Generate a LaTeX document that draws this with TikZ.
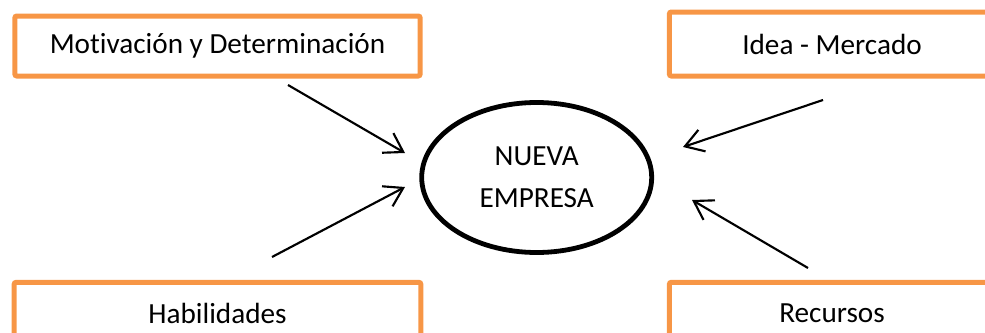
\documentclass[tikz,border=0pt]{standalone}
\usepackage{fontspec}
\setmainfont{Carlito}[Ligatures=NoCommon]
\usetikzlibrary{arrows.meta,shapes.geometric}
\definecolor{naranja}{HTML}{F79646}
\tikzset{
    caja/.style={draw=naranja, line width=3.75pt, rounded corners=1.5pt, inner sep=0pt,
        minimum height=46pt, font=\fontsize{21.9}{26}\selectfont},
    flecha/.style={-{Straight Barb[length=13.5pt, width=17pt]}, line width=1.6pt}
}
\begin{document}
\begin{tikzpicture}[x=0.75pt, y=-0.75pt]
    \clip (0,0) rectangle (985,332);

    %Cajas
    \node(motiv) at (217.5,46) [caja, minimum width=304pt, minimum height=45pt] {Motivación y Determinación};
    \node(idea) at (832,44) [caja, minimum width=244pt, minimum height=48pt] {Idea - Mercado};
    \node(habil) at (217.5,313) [caja, minimum width=305pt] {Habilidades};
    \node(recur) at (832,313) [caja, minimum width=244pt] {Recursos};

    %Elipse
    \node(empresa) at (536.7,177.5) [ellipse, draw, line width=3.6pt, inner sep=0pt,
        minimum width=172.5pt, minimum height=112.5pt, align=center,
        font=\fontsize{21.9}{31.5}\selectfont] {NUEVA\\EMPRESA};

    %Extremos de las flechas
    \coordinate(a1) at (288,85);
    \coordinate(a2) at (405,153);
    \coordinate(b1) at (272,257);
    \coordinate(b2) at (405,187);
    \coordinate(c1) at (823,100);
    \coordinate(c2) at (683,147);
    \coordinate(d1) at (808,268);
    \coordinate(d2) at (692,200);

    \draw[flecha] (a1) -- (a2);
    \draw[flecha] (b1) -- (b2);
    \draw[flecha] (c1) -- (c2);
    \draw[flecha] (d1) -- (d2);
\end{tikzpicture}
\end{document}
